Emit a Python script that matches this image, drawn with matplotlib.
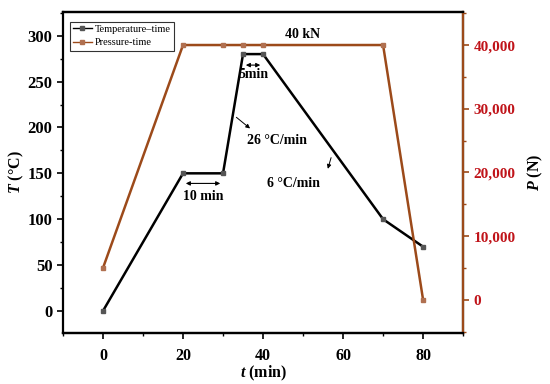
import numpy as np
import matplotlib
matplotlib.use("Agg")
import matplotlib.pyplot as plt
from matplotlib.ticker import MultipleLocator, FuncFormatter

plt.rcParams['font.family'] = ['Liberation Serif', 'DejaVu Serif']
plt.rcParams['font.weight'] = 'bold'
plt.rcParams['mathtext.fontset'] = 'custom'
plt.rcParams['mathtext.it'] = 'Liberation Serif:italic:bold'
plt.rcParams['mathtext.rm'] = 'Liberation Serif:bold'

# data
t_temp = [0, 20, 30, 35, 40, 70, 80]
temp = [0, 150, 150, 280, 280, 100, 70]
t_pres = [0, 20, 30, 35, 40, 70, 80]
pres = [5000, 40000, 40000, 40000, 40000, 40000, 0]

brown = '#9C4A1A'
red = '#C0141A'

fig = plt.figure(figsize=(5.5, 3.84), dpi=100)
ax = fig.add_axes([0.1145, 0.133, 0.7275, 0.836])
ax2 = ax.twinx()

l1, = ax.plot(t_temp, temp, color='black', lw=1.8, marker='s', ms=2.5,
              mfc='#555555', mec='#555555', label='Temperature–time')
l2, = ax2.plot(t_pres, pres, color=brown, lw=1.8, marker='s', ms=2.5,
               mfc='#B07050', mec='#B07050', label='Pressure-time')

ax.set_xlim(-10, 90)
ax.set_ylim(-24, 326)
ax2.set_ylim(-5200, 45200)

ax.xaxis.set_major_locator(MultipleLocator(20))
ax.xaxis.set_minor_locator(MultipleLocator(10))
ax.yaxis.set_major_locator(MultipleLocator(50))
ax.yaxis.set_minor_locator(MultipleLocator(25))
ax2.yaxis.set_major_locator(MultipleLocator(10000))
ax2.yaxis.set_minor_locator(MultipleLocator(5000))
ax2.yaxis.set_major_formatter(FuncFormatter(lambda v, p: '{:,}'.format(int(v))))

for a in (ax, ax2):
    for s in a.spines.values():
        s.set_linewidth(1.6)
ax2.spines['right'].set_color(brown)
ax2.spines['left'].set_visible(False)

ax.tick_params(axis='both', which='major', labelsize=12, width=1.2, length=4)
ax.tick_params(axis='x', which='major', pad=7, labelsize=11.5)
ax.tick_params(axis='both', which='minor', width=1, length=2.5)
ax2.tick_params(axis='y', which='major', labelsize=11, width=1.2, length=4,
                colors=brown, labelcolor=red)
ax2.tick_params(axis='y', which='minor', width=1, length=2.5, colors=brown)

ax.set_xlabel(r'$t$ (min)', fontsize=11.5, fontweight='bold', labelpad=0)
ax.set_ylabel(r'$T$ (°C)', fontsize=11.5, fontweight='bold', labelpad=1)
ax2.set_ylabel(r'$P$ (N)', fontsize=11.5, fontweight='bold', labelpad=7)

# annotations
ax2.text(50, 40700, '40 kN', ha='center', va='bottom', fontsize=10, fontweight='bold')
ax.annotate('', xy=(35, 268), xytext=(40, 268),
            arrowprops=dict(arrowstyle='<|-|>', color='black', lw=0.8, mutation_scale=6))
ax.text(37.5, 258, '5min', ha='center', va='center', fontsize=10, fontweight='bold')
ax.annotate('', xy=(20, 139), xytext=(30, 139),
            arrowprops=dict(arrowstyle='<|-|>', color='black', lw=0.8, mutation_scale=6))
ax.text(25, 125, '10 min', ha='center', va='center', fontsize=10, fontweight='bold')
ax.annotate('', xy=(37.3, 197), xytext=(32.8, 213),
            arrowprops=dict(arrowstyle='-|>', color='black', lw=0.7, mutation_scale=6))
ax.text(43.5, 186, '26 °C/min', ha='center', va='center', fontsize=10, fontweight='bold')
ax.annotate('', xy=(56, 152), xytext=(57.2, 170),
            arrowprops=dict(arrowstyle='-|>', color='black', lw=0.7, mutation_scale=6))
ax.text(47.7, 139, '6 °C/min', ha='center', va='center', fontsize=10, fontweight='bold')

leg = ax.legend(handles=[l1, l2], loc='upper left', bbox_to_anchor=(0.017, 0.97),
                frameon=True, fancybox=False, edgecolor='black', borderpad=0.3,
                handlelength=1.8, handletextpad=0.3, labelspacing=0.4,
                borderaxespad=0.0,
                prop={'family': 'Liberation Serif', 'size': 7.5, 'weight': 'normal'})
leg.get_frame().set_linewidth(0.8)
for ln in leg.get_lines():
    ln.set_linewidth(1.0)

fig.savefig('out.png', dpi=100)
